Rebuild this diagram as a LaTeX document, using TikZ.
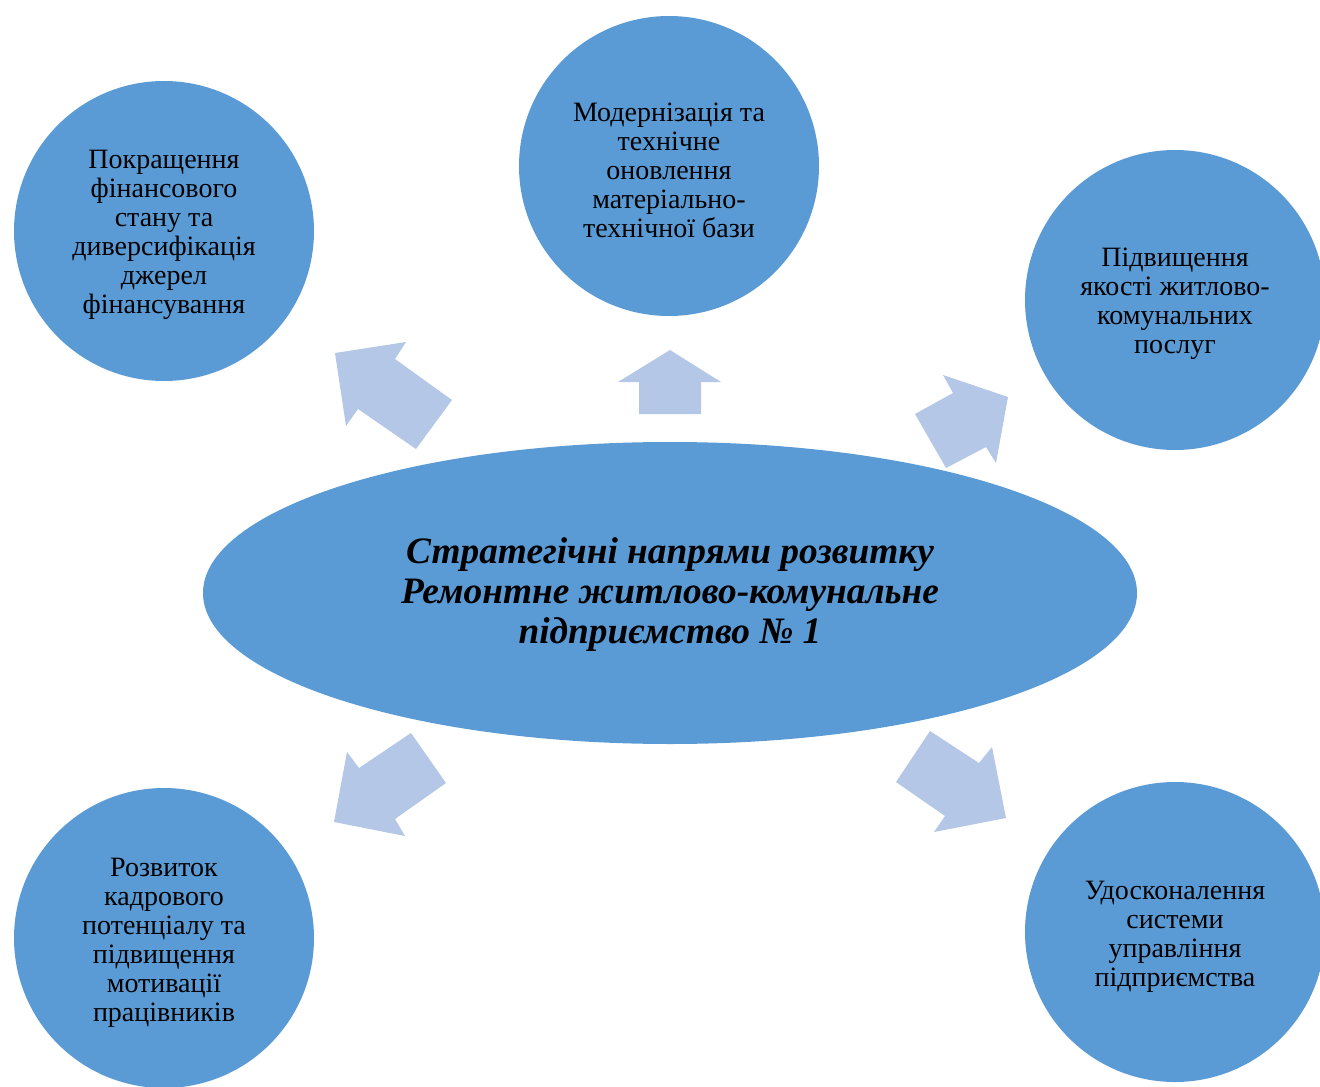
\documentclass[tikz,border=0pt]{standalone}
\usepackage{fontspec}
\setmainfont{Liberation Serif}
\begin{document}
\begin{tikzpicture}[x=0.75pt,y=-0.75pt,
  circ/.style={circle,fill=circblue,minimum size=300*0.75pt,inner sep=0pt},
  ctext/.style={align=center,font=\fontsize{21}{21.75}\selectfont,text=black},
  blockarrow/.style={fill=arrowblue,draw=none}]
\definecolor{circblue}{HTML}{5B9BD5}
\definecolor{arrowblue}{HTML}{B4C7E7}
\useasboundingbox (0,0) rectangle (1320,1087);
\clip (0,0) rectangle (1320,1087);
% circles
\node[circ] (c1) at (164,231) {};
\node[circ] (c2) at (669,166) {};
\node[circ] (c3) at (1175,300) {};
\node[circ] (c4) at (164,938) {};
\node[circ] (c5) at (1175,932) {};
\node[ctext] (t1) at (164,235) {Покращення\\фінансового\\стану та\\диверсифікація\\джерел\\фінансування};
\node[ctext] (t2) at (669,170) {Модернізація та\\технічне\\оновлення\\матеріально-\\технічної бази};
\node[ctext] (t3) at (1175,304) {Підвищення\\якості житлово-\\комунальних\\послуг};
\node[ctext] (t4) at (164,943) {Розвиток\\кадрового\\потенціалу та\\підвищення\\мотивації\\працівників};
\node[ctext] (t5) at (1175,937) {Удосконалення\\системи\\управління\\підприємства};
% center ellipse
\fill[circblue] (670,593) ellipse [x radius=467, y radius=151];
\node[align=center,font=\fontsize{28}{30}\selectfont\bfseries\itshape] (ctr) at (670,595)
  {Стратегічні напрями розвитку\\Ремонтне житлово-комунальне\\підприємство № 1};
% block arrows
\fill[blockarrow] (335,353) -- (406,342) -- (395,359) -- (452,400) -- (416,449) -- (358,409) -- (346,426) -- cycle;
\fill[blockarrow] (670,350) -- (721,382) -- (701,382) -- (701,414) -- (639,414) -- (639,382) -- (618,382) -- cycle;
\fill[blockarrow] (1008,397) -- (996,463) -- (986,447) -- (946,468) -- (915,414) -- (953,393) -- (943,375) -- cycle;
\fill[blockarrow] (334,822) -- (347,752) -- (359,768) -- (411,733) -- (446,783) -- (395,819) -- (405,836) -- cycle;
\fill[blockarrow] (1006,818) -- (992,747) -- (979,763) -- (930,731) -- (896,782) -- (945,816) -- (934,832) -- cycle;
\end{tikzpicture}
\end{document}
